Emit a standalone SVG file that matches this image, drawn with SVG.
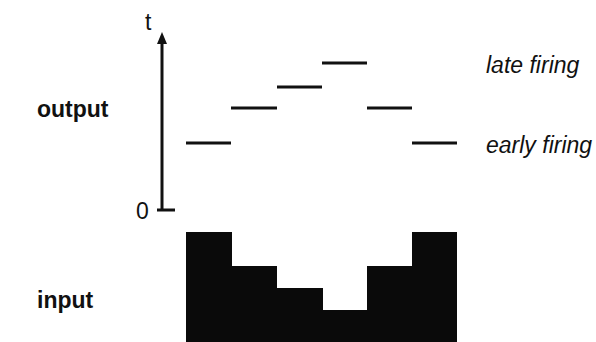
<svg xmlns="http://www.w3.org/2000/svg" width="596" height="342" viewBox="0 0 596 342">
<style>
.lbl{font-family:"Liberation Sans",Arial,sans-serif;font-size:23px;fill:#111}
.b{font-weight:bold}
.i{font-style:italic}
.bar{stroke:#111;stroke-width:3;fill:none}
</style>
<defs>
<marker id="ah" markerWidth="12" markerHeight="10" refX="2" refY="5" orient="auto" markerUnits="userSpaceOnUse" viewBox="0 0 12 10">
<path d="M0,0 L12,5 L0,10 Z" fill="#111"/>
</marker>
</defs>
<rect width="596" height="342" fill="#fff"/>
<g id="labels">
<text class="lbl b" x="37" y="117">output</text>
<text class="lbl b" x="37" y="308">input</text>
<text class="lbl i" x="486" y="73">late firing</text>
<text class="lbl i" x="486" y="153">early firing</text>
</g>
<g id="axis">
<line x1="162" y1="210" x2="162" y2="42" stroke="#111" stroke-width="3" marker-end="url(#ah)"/>
<line x1="157" y1="210" x2="175" y2="210" stroke="#111" stroke-width="3"/>
<text class="lbl" x="145" y="30" font-size="21">t</text>
<text class="lbl" x="136" y="219" font-size="22">0</text>
</g>
<g id="output-bars">
<line class="bar" x1="186" y1="143" x2="231" y2="143"/>
<line class="bar" x1="231" y1="108" x2="277" y2="108"/>
<line class="bar" x1="277" y1="87" x2="322" y2="87"/>
<line class="bar" x1="322" y1="63" x2="367" y2="63"/>
<line class="bar" x1="367" y1="108" x2="412" y2="108"/>
<line class="bar" x1="412" y1="143" x2="457" y2="143"/>
</g>
<g id="input">
<path d="M186,232 H232 V266 H277 V288 H323 V310 H367 V266 H412 V232 H457 V342 H186 Z" fill="#0a0a0a"/>
</g>
</svg>
